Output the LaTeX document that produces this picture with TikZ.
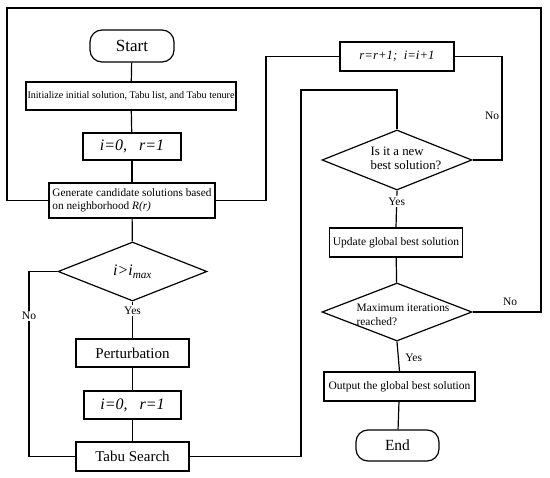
\documentclass[tikz,border=0pt]{standalone}
\usepackage{fontspec}
\setmainfont{Liberation Serif}
\usetikzlibrary{shapes.geometric}
\newcommand{\dtext}[3]{\makebox[0pt]{\hspace*{#1}\smash{\raisebox{#2}{\begin{tabular}{@{}l@{}}#3\end{tabular}}}}}
\begin{document}
\begin{tikzpicture}[x=1pt,y=-1pt,
  box/.style={draw,line width=1.2pt,inner sep=0pt,minimum height=#1},
  box/.default=28pt,
  term/.style={draw,line width=1.2pt,rounded corners=12pt,inner sep=0pt},
  dec/.style={draw,line width=1.2pt,diamond,inner sep=0pt,shape aspect=2.6},
  lab/.style={fill=white,inner sep=1.5pt,font=\fontsize{11.5}{12}\selectfont},
  line/.style={line width=1.2pt}]
\useasboundingbox (0,0) rectangle (550,478);
% left column
\node[term,minimum width=84pt,minimum height=32pt,font=\fontsize{17}{18}\selectfont] (start) at (132,46) {Start};
\node[box,minimum width=210pt,font=\fontsize{10.1}{11}\selectfont] (init) at (131,96) {Initialize initial solution, Tabu list, and Tabu tenure};
\node[box=27pt,minimum width=98pt,font=\fontsize{16}{17}\selectfont\itshape] (ir1) at (132,146.5) {i=0,\ \ \ r=1};
\node[box=35pt,minimum width=166pt,align=left,font=\fontsize{11.3}{13}\selectfont] (gen) at (132,200.5) {Generate candidate solutions based\\on neighborhood \textit{R(r)}};
\node[dec,minimum width=149pt,minimum height=59pt,font=\fontsize{16}{17}\selectfont\itshape] (d1) at (132.5,271.5) {i>i\textsubscript{max}};
\node[box,minimum width=113pt,font=\fontsize{15}{16}\selectfont] (pert) at (132.5,353) {Perturbation};
\node[box,minimum width=97pt,font=\fontsize{16}{17}\selectfont\itshape] (ir2) at (132.5,405) {i=0,\ \ \ r=1};
\node[box=29pt,minimum width=113pt,font=\fontsize{15}{16}\selectfont] (tabu) at (132.5,456.5) {Tabu Search};
% right column
\node[box=29pt,minimum width=114pt,font=\fontsize{12.8}{14}\selectfont\itshape] (rr) at (397,56.5) {r=r+1;\ \ i=i+1};
\node[dec,minimum width=150pt,minimum height=60pt,font=\fontsize{12.8}{14}\selectfont] (nb) at (397,160) {\dtext{18pt}{-3pt}{Is it a new\\best solution?}};
\node[box=29pt,minimum width=133pt,font=\fontsize{11.5}{12}\selectfont] (upd) at (396,242.5) {Update global best solution};
\node[dec,minimum width=150pt,minimum height=58pt,font=\fontsize{11.4}{14}\selectfont] (mx) at (397,312) {\dtext{12pt}{-6pt}{Maximum iterations\\reached?}};
\node[box=29pt,minimum width=151pt,font=\fontsize{11.5}{12}\selectfont] (out) at (399.5,386.5) {Output the global best solution};
\node[term,minimum width=83pt,minimum height=31pt,font=\fontsize{15.5}{16}\selectfont] (end) at (397.5,445.5) {End};
% bend points
\coordinate (lA) at (7,200.5);
\coordinate (lB) at (7,8);
\coordinate (rA) at (541,8);
\coordinate (rB) at (541,312);
\coordinate (gA) at (266,200.5);
\coordinate (gB) at (266,56.5);
\coordinate (nA) at (502,160);
\coordinate (nB) at (502,56.5);
\coordinate (tA) at (301,456.5);
\coordinate (tB) at (301,90);
\coordinate (tC) at (397,90);
\coordinate (dA) at (29,271.5);
\coordinate (dB) at (29,456.5);
% connectors
\draw[line] (start) -- (init);
\draw[line] (init) -- (ir1);
\draw[line] (ir1) -- (gen);
\draw[line] (gen) -- (d1);
\draw[line] (d1.south) -- node[lab,pos=0.25] {Yes} (pert.north);
\draw[line] (pert) -- (ir2);
\draw[line] (ir2) -- (tabu);
\draw[line] (d1.west) -- (dA) -- node[lab,pos=0.24] {No} (dB) -- (tabu.west);
\draw[line] (tabu.east) -- (tA) -- (tB) -- (tC) -- (nb.north);
\draw[line] (nb.south) -- node[lab,pos=0.3] {Yes} (upd.north);
\draw[line] (nb.east) -- (nA) -- node[pos=0.43,left=-1pt,font=\fontsize{11.5}{12}\selectfont] {No} (nB) -- (rr.east);
\draw[line] (rr.west) -- (gB) -- (gA) -- (gen.east);
\draw[line] (upd) -- (mx);
\draw[line] (mx.east) -- node[above=2pt,pos=0.55,font=\fontsize{11.5}{12}\selectfont] {No} (rB) -- (rA) -- (lB) -- (lA) -- (gen.west);
\draw[line] (mx.south) -- node[right=3pt,pos=0.55,font=\fontsize{11.5}{12}\selectfont] {Yes} (out.north);
\draw[line] (out) -- (end);
\end{tikzpicture}
\end{document}
